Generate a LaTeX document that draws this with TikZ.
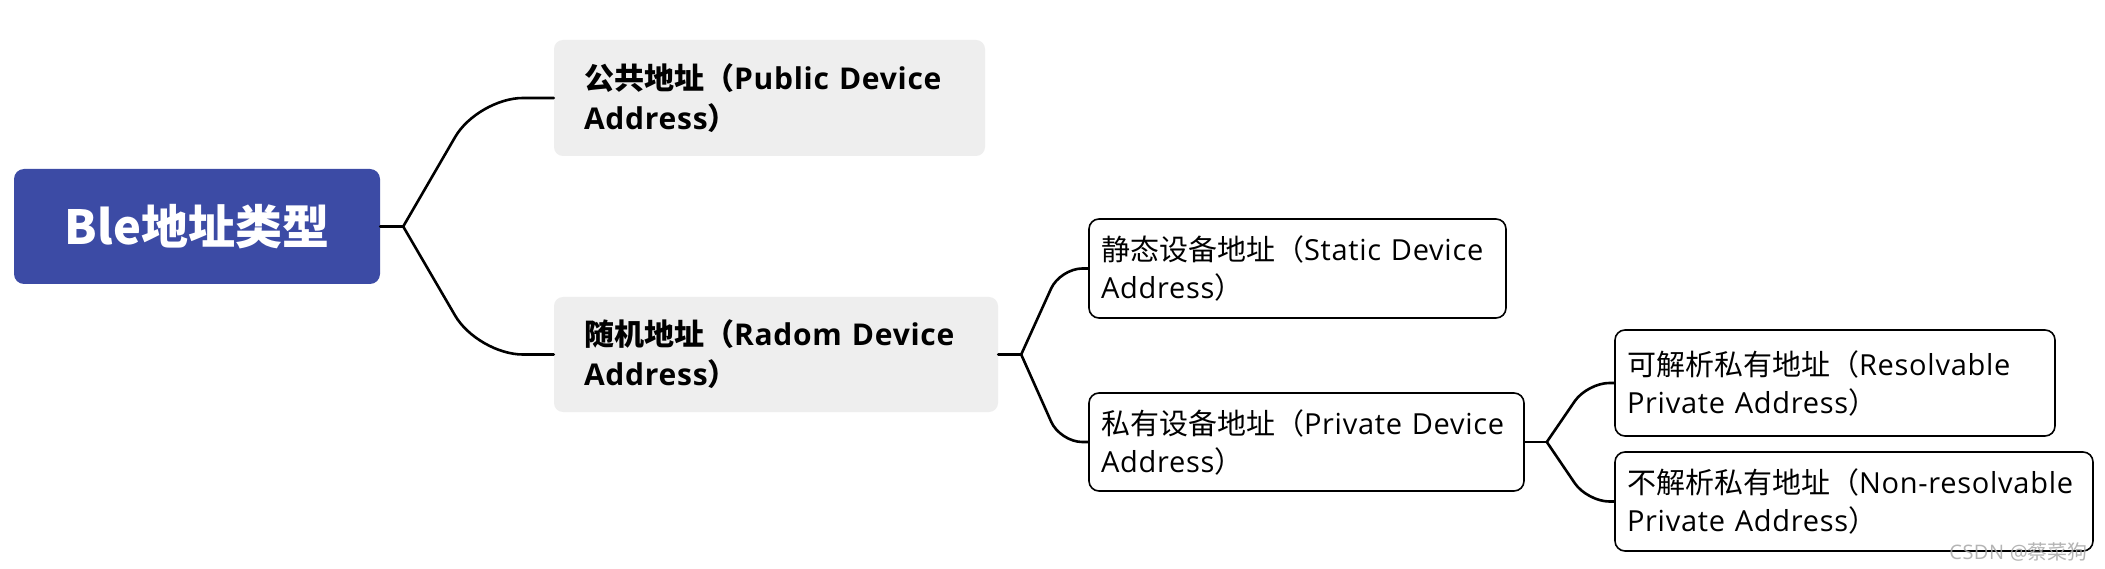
\documentclass[tikz,border=0pt]{standalone}
\usepackage{fontspec}
\setmainfont{Open Sans}[LetterSpace=2.5]
\newfontfamily\cjk{Noto Sans CJK SC}
\newcommand\zh[1]{{\cjk #1}}
\definecolor{rootblue}{HTML}{3C4BA5}
\definecolor{boxgray}{HTML}{EEEEEE}
\definecolor{wmgray}{HTML}{A8A8A8}
\begin{document}
\begin{tikzpicture}[x=1pt,y=-1pt,
  rootbox/.style={fill=rootblue, rounded corners=10pt, text=white,
    font=\cjk\bfseries\fontsize{47}{56}\selectfont, inner sep=0pt, align=center},
  graybox/.style={fill=boxgray, rounded corners=9pt, inner xsep=30pt, inner ysep=0pt,
    align=left, font=\bfseries\fontsize{30}{40}\selectfont},
  whitebox/.style={draw=black, line width=1.6pt, fill=white, rounded corners=10pt,
    inner xsep=12pt, inner ysep=0pt, align=left, font=\fontsize{29}{38}\selectfont},
  conn/.style={line width=2.6pt, line cap=round},
  wm/.style={text=wmgray, opacity=0.85, font=\fontsize{20}{24}\selectfont, inner sep=0pt}
]
\fill[white] (0,0) rectangle (2105,569);
\useasboundingbox (0,0) rectangle (2105,569);

% nodes
\node[rootbox, minimum width=366pt, minimum height=115pt] (root) at (197,226.5) {Ble地址类型};
\node[graybox, text width=371pt, minimum height=116pt] (pub) at (769.5,98) {\zh{公共地址（}Public Device\\Address\zh{）}};
\node[graybox, text width=384pt, minimum height=115pt] (rad) at (776,354.5) {\zh{随机地址（}Radom Device\\Address\zh{）}};
\node[whitebox, text width=393pt, minimum height=99pt] (sta) at (1297.5,268.5) {\zh{静态设备地址（}Static Device\\Address\zh{）}};
\node[whitebox, text width=411pt, minimum height=98pt] (pri) at (1306.5,442) {\zh{私有设备地址（}Private Device\\Address\zh{）}};
\node[whitebox, text width=416pt, minimum height=106pt] (res) at (1835,383) {\zh{可解析私有地址（}Resolvable\\Private Address\zh{）}};
\node[whitebox, text width=454pt, minimum height=99pt] (non) at (1854,501.5) {\zh{不解析私有地址（}Non-resolvable\\Private Address\zh{）}};

% junctions
\coordinate (j1) at ([xshift=23pt]root.east);
\coordinate (j2) at ([xshift=23pt]rad.east);
\coordinate (j3) at ([xshift=22pt]pri.east);

% connectors
\draw[conn] (root.east) -- (j1);
\draw[conn, rounded corners=45pt] (j1) -- ([xshift=-76pt]pub.west) -- (pub.west);
\draw[conn, rounded corners=45pt] (j1) -- ([xshift=-76pt]rad.west) -- (rad.west);
\draw[conn] (rad.east) -- (j2);
\draw[conn, rounded corners=22pt] (j2) -- ([xshift=-28pt]sta.west) -- (sta.west);
\draw[conn, rounded corners=22pt] (j2) -- ([xshift=-28pt]pri.west) -- (pri.west);
\draw[conn] (pri.east) -- (j3);
\draw[conn, rounded corners=22pt] (j3) -- ([xshift=-27pt]res.west) -- (res.west);
\draw[conn, rounded corners=22pt] (j3) -- ([xshift=-27pt]non.west) -- (non.west);

% watermark
\node[wm, anchor=east] (wmark) at (2088,552) {CSDN @\zh{蔡菜狗}};
\end{tikzpicture}
\end{document}
